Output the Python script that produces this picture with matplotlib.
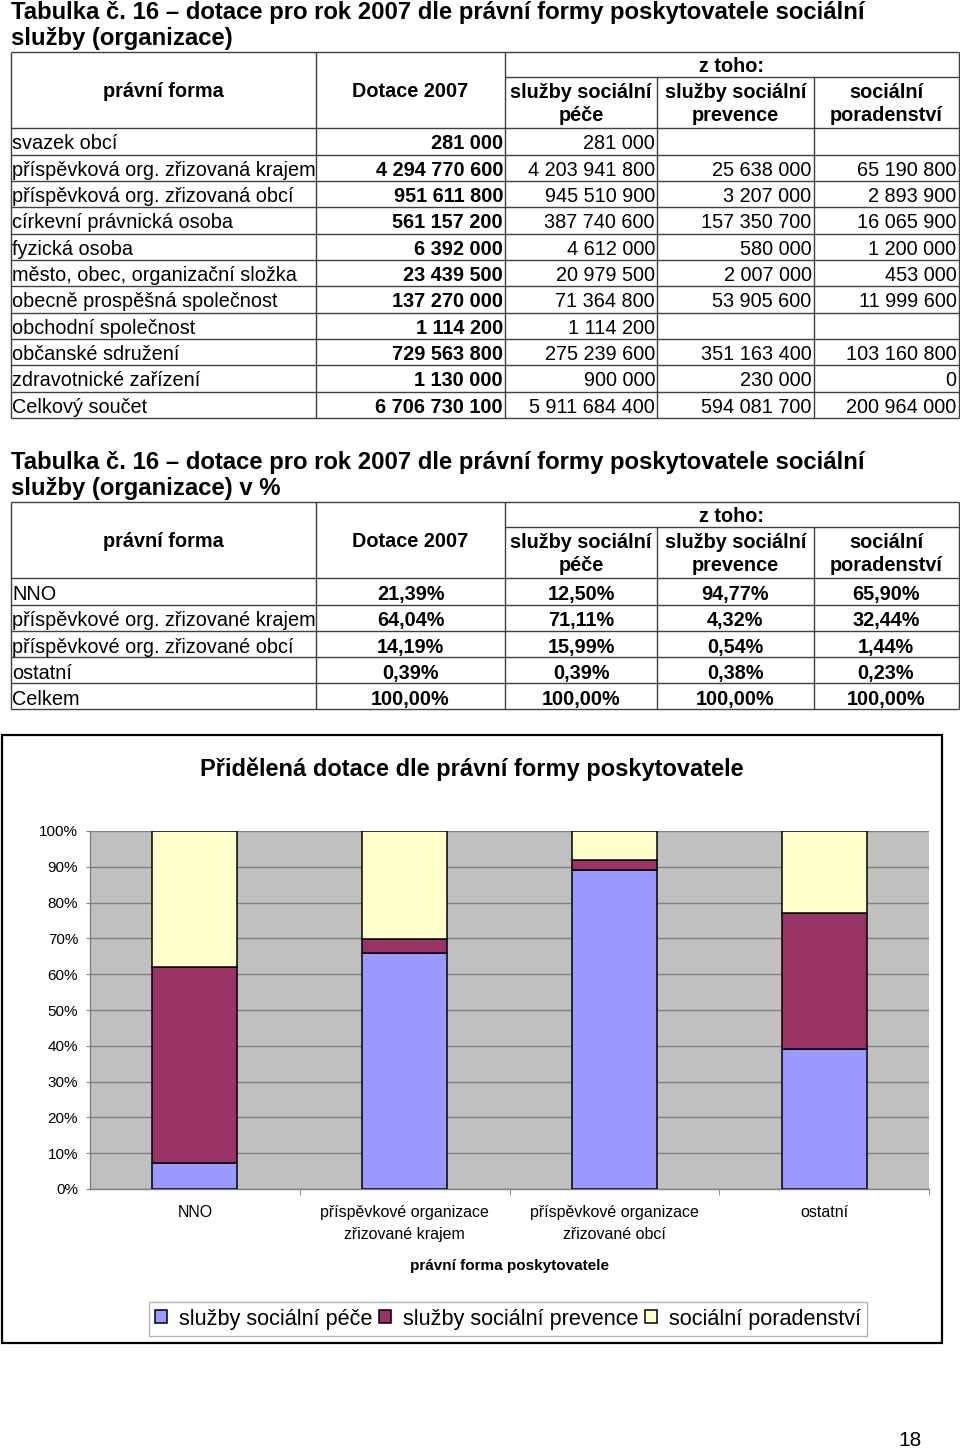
import matplotlib
matplotlib.use("Agg")
import matplotlib.pyplot as plt
from matplotlib.patches import Rectangle
import numpy as np

plt.rcParams['font.family'] = ['Liberation Sans', 'DejaVu Sans']

# ---------------- data ----------------
title1 = ["Tabulka č. 16 – dotace pro rok 2007 dle právní formy poskytovatele sociální",
          "služby (organizace)"]
title2 = ["Tabulka č. 16 – dotace pro rok 2007 dle právní formy poskytovatele sociální",
          "služby (organizace) v %"]
hdr_form = "právní forma"
hdr_dot = "Dotace 2007"
hdr_ztoho = "z toho:"
hdr_types = ["služby sociální\npéče", "služby sociální\nprevence", "sociální\nporadenství"]

forms1 = ["svazek obcí", "příspěvková org. zřizovaná krajem", "příspěvková org. zřizovaná obcí",
          "církevní právnická osoba", "fyzická osoba", "město, obec, organizační složka",
          "obecně prospěšná společnost", "obchodní společnost", "občanské sdružení",
          "zdravotnické zařízení", "Celkový součet"]
dotace1 = [281000, 4294770600, 951611800, 561157200, 6392000, 23439500, 137270000,
           1114200, 729563800, 1130000, 6706730100]
pece1 = [281000, 4203941800, 945510900, 387740600, 4612000, 20979500, 71364800,
         1114200, 275239600, 900000, 5911684400]
prevence1 = [None, 25638000, 3207000, 157350700, 580000, 2007000, 53905600,
             None, 351163400, 230000, 594081700]
poradenstvi1 = [None, 65190800, 2893900, 16065900, 1200000, 453000, 11999600,
                None, 103160800, 0, 200964000]

forms2 = ["NNO", "příspěvkové org. zřizované krajem", "příspěvkové org. zřizované obcí",
          "ostatní", "Celkem"]
dotace2 = [21.39, 64.04, 14.19, 0.39, 100.00]
pece2 = [12.50, 71.11, 15.99, 0.39, 100.00]
prevence2 = [94.77, 4.32, 0.54, 0.38, 100.00]
poradenstvi2 = [65.90, 32.44, 1.44, 0.23, 100.00]

chart_title = "Přidělená dotace dle právní formy poskytovatele"
categories = ["NNO", "příspěvkové organizace\nzřizované krajem",
              "příspěvkové organizace\nzřizované obcí", "ostatní"]
series_names = ["služby sociální péče", "služby sociální prevence", "sociální poradenství"]
series_colors = ["#9999FF", "#993366", "#FFFFCC"]
xlabel = "právní forma poskytovatele"
page_no = "18"

# ---------------- helpers ----------------
W, H, DPI = 960, 1451, 100
fig = plt.figure(figsize=(W / DPI, H / DPI), dpi=DPI)
bg = fig.add_axes([0, 0, 1, 1])
bg.set_xlim(0, W)
bg.set_ylim(H, 0)
bg.axis('off')

LC = '#404040'
LW = 1.0
FS = 14.3          # table text size (pt)
CAPOFF = 8.0       # px from visual middle to baseline


def hline(y, x0, x1):
    bg.plot([x0, x1], [y, y], color=LC, lw=LW, solid_capstyle='butt')


def vline(x, y0, y1):
    bg.plot([x, x], [y0, y1], color=LC, lw=LW, solid_capstyle='butt')


def fmt_num(v):
    if v is None:
        return ""
    return f"{v:,}".replace(",", " ")


def fmt_pct(v):
    return f"{v:.2f}".replace(".", ",") + "%"


XL, XC1, XC2, XC3, XC4, XR = 11, 316, 505, 657, 813.5, 958.5
centers = [(XC1 + XC2) / 2, (XC2 + XC3) / 2, (XC3 + XC4) / 2, (XC4 + XR) / 2]


def draw_header(top, title, tb1, tb2):
    bg.text(XL, tb1, title[0], fontsize=17.2, fontweight='bold', va='baseline', ha='left')
    bg.text(XL, tb2, title[1], fontsize=17.2, fontweight='bold', va='baseline', ha='left')
    bg.text((XL + XC1) / 2, top + 45.5, hdr_form, fontsize=FS, fontweight='bold',
            ha='center', va='baseline')
    bg.text((XC1 + XC2) / 2, top + 45.5, hdr_dot, fontsize=FS, fontweight='bold',
            ha='center', va='baseline')
    bg.text((XC2 + XR) / 2, top + 20.3, hdr_ztoho, fontsize=FS, fontweight='bold',
            ha='center', va='baseline')
    for i, h in enumerate(hdr_types):
        l1, l2 = h.split("\n")
        cx = centers[i + 1]
        bg.text(cx, top + 46.1, l1, fontsize=FS, fontweight='bold', ha='center', va='baseline')
        bg.text(cx, top + 69.4, l2, fontsize=FS, fontweight='bold', ha='center', va='baseline')


# ---------------- table 1 ----------------
T1_TOP, T1_HB, RH1 = 51.7, 128.3, 26.33
draw_header(T1_TOP, title1, 18.8, 45.0)
n1 = len(forms1)
t1_bot = T1_HB + n1 * RH1
hline(T1_TOP, XL, XR)
hline(T1_TOP + 25, XC2, XR)
for k in range(n1 + 1):
    hline(T1_HB + k * RH1, XL, XR)
for x in (XL, XC1, XC2, XR):
    vline(x, T1_TOP, t1_bot)
for x in (XC3, XC4):
    vline(x, T1_TOP + 25, t1_bot)
for k in range(n1):
    yb = T1_HB + (k + 0.5) * RH1 + CAPOFF
    bg.text(XL + 1, yb, forms1[k], fontsize=FS, ha='left', va='baseline')
    bg.text(XC2 - 2, yb, fmt_num(dotace1[k]), fontsize=FS, fontweight='bold',
            ha='right', va='baseline')
    for xr, vals in ((XC3, pece1), (XC4, prevence1), (XR, poradenstvi1)):
        bg.text(xr - 2, yb, fmt_num(vals[k]), fontsize=FS, ha='right', va='baseline')

# ---------------- table 2 ----------------
T2_TOP, T2_HB, RH2 = 501.7, 578.3, 26.2
draw_header(T2_TOP, title2, 468.5, 494.5)
n2 = len(forms2)
t2_bot = T2_HB + n2 * RH2
hline(T2_TOP, XL, XR)
hline(T2_TOP + 25, XC2, XR)
for k in range(n2 + 1):
    hline(T2_HB + k * RH2, XL, XR)
for x in (XL, XC1, XC2, XR):
    vline(x, T2_TOP, t2_bot)
for x in (XC3, XC4):
    vline(x, T2_TOP + 25, t2_bot)
for k in range(n2):
    yb = T2_HB + (k + 0.5) * RH2 + CAPOFF + 0.8
    bg.text(XL + 1, yb, forms2[k], fontsize=FS, ha='left', va='baseline')
    for cx, vals in zip(centers, (dotace2, pece2, prevence2, poradenstvi2)):
        bg.text(cx, yb, fmt_pct(vals[k]), fontsize=FS, fontweight='bold',
                ha='center', va='baseline')

# ---------------- chart ----------------
bg.add_patch(Rectangle((2, 735), 940, 608, fill=False, edgecolor='black', lw=1.6))
bg.text(472, 769, chart_title, fontsize=17, fontweight='bold', ha='center', va='center')

PL, PR, PT, PB = 90, 929, 831, 1189
ax = fig.add_axes([PL / W, 1 - PB / H, (PR - PL) / W, (PB - PT) / H])
ax.set_facecolor('#C0C0C0')

data = np.array([pece2[:4], prevence2[:4], poradenstvi2[:4]], dtype=float)
shares = data / data.sum(axis=0)
x = np.arange(len(categories))
bottom = np.zeros(len(categories))
handles = []
for i in range(3):
    b = ax.bar(x, shares[i], 0.405, bottom=bottom, color=series_colors[i],
               edgecolor='black', linewidth=1.1, label=series_names[i], zorder=3)
    handles.append(b)
    bottom += shares[i]

ax.set_xlim(-0.5, len(categories) - 0.5)
ax.set_ylim(0, 1)
ax.set_yticks(np.arange(0, 1.01, 0.1))
ax.set_yticklabels([f"{int(round(v * 100))}%" for v in np.arange(0, 1.01, 0.1)], fontsize=11)
ax.yaxis.grid(True, color='#808080', lw=1.0, zorder=1)
ax.set_axisbelow(True)
for s in ('top', 'right'):
    ax.spines[s].set_visible(False)
for s in ('left', 'bottom'):
    ax.spines[s].set_color('#808080')
    ax.spines[s].set_linewidth(1.0)
ax.tick_params(axis='y', length=3, color='#808080', pad=5.5)
ax.set_xticks(x)
ax.set_xticklabels(categories, fontsize=11.5, linespacing=1.55)
ax.tick_params(axis='x', which='major', length=0, pad=11.5)
ax.set_xticks(np.arange(0.5, len(categories) - 0.4, 1.0), minor=True)
ax.tick_params(axis='x', which='minor', length=4, color='#808080')

bg.text(509, 1266, xlabel, fontsize=11, fontweight='bold', ha='center', va='center')

leg = fig.legend(handles=handles, labels=series_names, loc='center',
                 bbox_to_anchor=(508 / W, 1 - 1319 / H), ncol=3, fontsize=15.6,
                 frameon=True, fancybox=False, edgecolor='#A0A0A0',
                 handlelength=0.55, handleheight=0.55, handletextpad=0.55,
                 columnspacing=0.3, borderpad=0.3, borderaxespad=0)
leg.get_frame().set_linewidth(1.0)

bg.text(910, 1440, page_no, fontsize=15, ha='center', va='center')

fig.savefig("out.png", dpi=DPI)
